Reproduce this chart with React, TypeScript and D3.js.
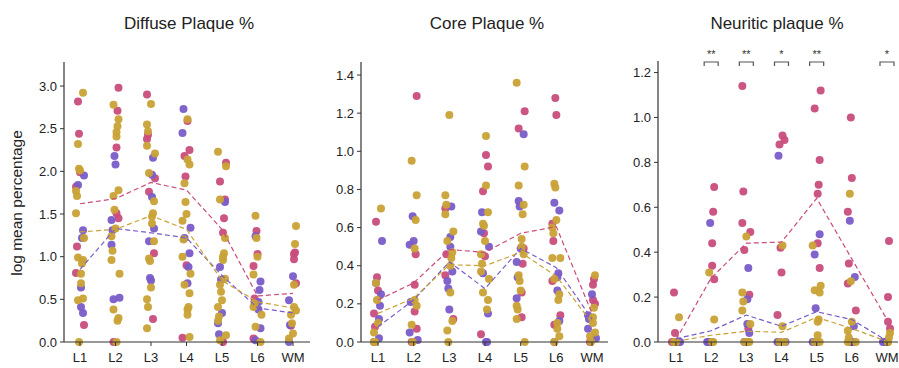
import React from 'react';
import * as d3 from 'd3';

const layers = ['L1', 'L2', 'L3', 'L4', 'L5', 'L6', 'WM'];

const PINK = '#c84c7c';
const PURPLE = '#7a5cc8';
const GOLD = '#c9a236';

// ---- Diffuse plaque % (points per layer) ----
const diffusePink = [
    [2.82, 2.44, 1.99, 1.82, 1.12, 0.81, 0.20],
    [2.98, 2.71, 2.28, 1.51, 1.45, 0.0],
    [2.90, 2.43, 2.38, 1.92, 1.76, 1.04, 0.27],
    [2.59, 2.25, 2.18, 1.94, 0.90, 0.05],
    [2.10, 1.88, 1.67, 1.45, 1.28, 0.0],
    [1.30, 1.03, 0.89, 0.51, 0.04],
    [1.05, 1.03, 0.97, 0.69, 0.19],
];
const diffusePurple = [
    [1.95, 1.84, 1.31, 1.22, 0.64, 0.41, 0.34],
    [2.18, 2.08, 1.43, 1.31, 1.14, 0.52, 0.50],
    [2.16, 1.96, 1.70, 1.33, 1.18, 0.75, 0.72],
    [2.73, 2.45, 1.34, 1.22, 1.04, 0.88, 0.69],
    [1.64, 0.88, 0.73, 0.34, 0.22, 0.09],
    [1.24, 0.71, 0.61, 0.47, 0.38, 0.16, 0.02],
    [0.77, 0.49, 0.20, 0.0],
];
const diffuseGold = [
    [2.92, 2.32, 2.03, 2.01, 1.77, 1.71, 1.51, 1.22, 0.99, 0.96, 0.92, 0.80, 0.69, 0.51, 0.49, 0.0],
    [2.78, 2.61, 2.53, 2.46, 2.41, 1.78, 1.71, 1.55, 1.33, 1.24, 1.07, 0.96, 0.80, 0.38, 0.28, 0.25, 0.0],
    [2.79, 2.55, 2.47, 2.30, 2.21, 1.98, 1.65, 1.51, 1.47, 1.39, 1.18, 0.98, 0.95, 0.64, 0.50, 0.41, 0.16],
    [2.61, 2.14, 2.08, 1.86, 1.64, 1.50, 1.42, 1.20, 1.00, 0.80, 0.67, 0.57, 0.41, 0.38, 0.32, 0.06],
    [2.23, 2.06, 1.67, 1.22, 1.04, 1.00, 0.96, 0.74, 0.67, 0.59, 0.49, 0.41, 0.30, 0.25, 0.08, 0.02],
    [1.48, 1.22, 1.00, 0.79, 0.45, 0.41, 0.32, 0.18, 0.0],
    [1.36, 1.15, 0.67, 0.41, 0.37, 0.32, 0.22, 0.10, 0.04],
];
const diffuseMeanPink = [1.62, 1.68, 1.87, 1.78, 1.32, 0.54, 0.57];
const diffuseMeanPurple = [0.85, 1.33, 1.28, 1.22, 0.78, 0.40, 0.34];
const diffuseMeanGold = [1.29, 1.32, 1.48, 1.32, 0.72, 0.47, 0.40];

// ---- Core plaque % ----
const corePink = [
    [0.63, 0.34, 0.27, 0.15, 0.08, 0.0],
    [1.29, 0.46, 0.30, 0.16, 0.07, 0.0],
    [0.70, 0.46, 0.35, 0.12],
    [0.98, 0.92, 0.79, 0.57, 0.45, 0.04],
    [1.21, 1.12, 0.49, 0.41, 0.26, 0.13],
    [1.28, 1.19, 0.62, 0.53, 0.32, 0.14, 0.09],
    [0.33, 0.30, 0.22, 0.20, 0.0],
];
const corePurple = [
    [0.53, 0.31, 0.25, 0.19, 0.12, 0.02],
    [0.66, 0.53, 0.51, 0.21, 0.05, 0.01],
    [0.71, 0.55, 0.50, 0.37, 0.32, 0.28, 0.17],
    [0.68, 0.58, 0.50, 0.36, 0.15, 0.0, 0.0],
    [1.09, 0.74, 0.71, 0.49, 0.42, 0.34, 0.23],
    [0.73, 0.69, 0.36, 0.34, 0.27, 0.11, 0.0],
    [0.25, 0.14, 0.12, 0.07, 0.02],
];
const coreGold = [
    [0.70, 0.31, 0.22, 0.10, 0.05, 0.0, 0.0],
    [0.95, 0.77, 0.64, 0.49, 0.22, 0.19, 0.09, 0.0],
    [1.19, 0.77, 0.72, 0.67, 0.58, 0.53, 0.47, 0.44, 0.40, 0.26, 0.11, 0.06, 0.0],
    [1.08, 0.82, 0.68, 0.62, 0.61, 0.53, 0.46, 0.41, 0.37, 0.33, 0.26, 0.22, 0.17],
    [1.36, 0.92, 0.82, 0.72, 0.67, 0.54, 0.50, 0.46, 0.35, 0.32, 0.27, 0.19, 0.17, 0.12, 0.0],
    [0.83, 0.81, 0.64, 0.60, 0.57, 0.44, 0.44, 0.33, 0.25, 0.22, 0.10, 0.07, 0.03, 0.0],
    [0.35, 0.18, 0.13, 0.10, 0.05, 0.03, 0.0],
];
const coreMeanPink = [0.22, 0.31, 0.485, 0.47, 0.57, 0.605, 0.15];
const coreMeanPurple = [0.08, 0.22, 0.42, 0.28, 0.49, 0.39, 0.12];
const coreMeanGold = [0.15, 0.23, 0.405, 0.40, 0.47, 0.345, 0.10];

// ---- Neuritic plaque % ----
const neuriticPink = [
    [0.22, 0.04, 0.0, 0.0],
    [0.69, 0.58, 0.44, 0.34, 0.28, 0.0],
    [1.14, 0.67, 0.53, 0.49, 0.41, 0.21, 0.06, 0.0],
    [0.92, 0.90, 0.88, 0.42, 0.31, 0.12, 0.0],
    [1.12, 1.04, 0.81, 0.70, 0.66, 0.44, 0.33, 0.0],
    [1.00, 0.73, 0.58, 0.35, 0.26, 0.14, 0.0],
    [0.45, 0.20, 0.09, 0.06, 0.0],
];
const neuriticPurple = [
    [0.0, 0.0, 0.0],
    [0.53, 0.0, 0.0, 0.0],
    [0.33, 0.19, 0.08, 0.04, 0.0],
    [0.83, 0.0, 0.0, 0.0],
    [0.48, 0.39, 0.15, 0.0, 0.0],
    [0.54, 0.29, 0.07, 0.0, 0.0],
    [0.0, 0.0, 0.0],
];
const neuriticGold = [
    [0.11, 0.0, 0.0, 0.0],
    [0.31, 0.10, 0.0, 0.0, 0.0],
    [0.47, 0.22, 0.18, 0.14, 0.08, 0.0, 0.0, 0.0],
    [0.43, 0.07, 0.0, 0.0],
    [0.43, 0.25, 0.23, 0.22, 0.10, 0.09, 0.03, 0.0, 0.0],
    [0.66, 0.27, 0.09, 0.05, 0.02, 0.0, 0.0],
    [0.04, 0.02, 0.0, 0.0],
];
const neuriticMeanPink = [0.01, 0.285, 0.44, 0.445, 0.64, 0.37, 0.10];
const neuriticMeanPurple = [0.015, 0.05, 0.12, 0.07, 0.135, 0.10, 0.005];
const neuriticMeanGold = [0.003, 0.03, 0.048, 0.043, 0.11, 0.06, 0.003];
const neuriticStars = ['', '**', '**', '*', '**', '', '*'];

const panels = [
    {
        title: 'Diffuse Plaque %', titleX: 189, axisX: 64, xRange: [80, 293], xEnd: 310,
        yMax: 3.27, ticks: [0, 0.5, 1, 1.5, 2, 2.5, 3], top: 63,
        groups: [diffusePink, diffusePurple, diffuseGold],
        means: [diffuseMeanPink, diffuseMeanPurple, diffuseMeanGold], stars: null,
    },
    {
        title: 'Core Plaque %', titleX: 487, axisX: 361, xRange: [378, 592], xEnd: 608,
        yMax: 1.463, ticks: [0, 0.2, 0.4, 0.6, 0.8, 1.0, 1.2, 1.4], top: 63,
        groups: [corePink, corePurple, coreGold],
        means: [coreMeanPink, coreMeanPurple, coreMeanGold], stars: null,
    },
    {
        title: 'Neuritic plaque %', titleX: 777, axisX: 658, xRange: [676, 887], xEnd: 898,
        yMax: 1.247, ticks: [0, 0.2, 0.4, 0.6, 0.8, 1.0, 1.2], top: 62,
        groups: [neuriticPink, neuriticPurple, neuriticGold],
        means: [neuriticMeanPink, neuriticMeanPurple, neuriticMeanGold], stars: neuriticStars,
    },
];

const colors = [PINK, PURPLE, GOLD];
// small horizontal jitter so stacked dots stay visible
const jit = [-2, 3, -4, 1, 4, -1, 2, -3, 3, -2, 0, 1, -4];
const baseY = 342;
const font = '"Liberation Sans", Arial, sans-serif';

const Panel = ({ p }: { p: typeof panels[number] }) => {
    const x = d3.scalePoint<string>().domain(layers).range(p.xRange as [number, number]);
    const y = d3.scaleLinear().domain([0, p.yMax]).range([baseY, p.top]);

    const line = d3.line<number>()
        .x((_, i) => x(layers[i])!)
        .y(d => y(d));

    return (
        <g>
            <text x={p.titleX} y={29} textAnchor="middle" fontSize={17} fill="#222">{p.title}</text>

            {/* points */}
            {p.groups.map((g, gi) =>
                g.map((vals, li) =>
                    vals.map((v, i) => (
                        <circle key={`${gi}-${li}-${i}`}
                            cx={x(layers[li])! + jit[(i * 5 + gi * 4 + li) % jit.length]}
                            cy={y(v)} r={4} fill={colors[gi]} fillOpacity={0.95} />
                    ))
                )
            )}

            {/* group means */}
            {p.means.map((m, gi) => (
                <path key={gi} d={line(m) || ''} fill="none" stroke={colors[gi]}
                    strokeWidth={1.2} strokeDasharray="5,3" />
            ))}

            {/* axes */}
            <line x1={p.axisX} x2={p.axisX} y1={p.top - 1} y2={baseY} stroke="#333" strokeWidth={1.2} />
            <line x1={p.axisX} x2={p.xEnd} y1={baseY} y2={baseY} stroke="#333" strokeWidth={1.2} />
            {p.ticks.map(t => (
                <g key={t}>
                    <line x1={p.axisX - 4} x2={p.axisX} y1={y(t)} y2={y(t)} stroke="#333" />
                    <text x={p.axisX - 7} y={y(t)} dy="0.35em" textAnchor="end" fontSize={13} fill="#222">
                        {t.toFixed(1)}
                    </text>
                </g>
            ))}
            {layers.map(l => (
                <g key={l}>
                    <line x1={x(l)!} x2={x(l)!} y1={baseY} y2={baseY + 4} stroke="#333" />
                    <text x={x(l)!} y={baseY + 20} textAnchor="middle" fontSize={13} fill="#222">{l}</text>
                </g>
            ))}

            {/* significance brackets */}
            {p.stars && p.stars.map((s, i) => s ? (
                <g key={i}>
                    <path d={`M${x(layers[i])! - 7},66V62H${x(layers[i])! + 7}V66`} fill="none" stroke="#555" strokeWidth={1.2} />
                    <text x={x(layers[i])!} y={58} textAnchor="middle" fontSize={11} fill="#333">{s}</text>
                </g>
            ) : null)}
        </g>
    );
};

export default function App() {
    return (
        <svg width={899} height={368} style={{ position: 'absolute', left: 0, top: 0, background: '#fff' }}
            fontFamily={font}>
            {panels.map((p, i) => <Panel key={i} p={p} />)}
            <text transform="translate(22,203) rotate(-90)" textAnchor="middle" fontSize={15.5} fill="#222">
                log mean percentage
            </text>
        </svg>
    );
}
